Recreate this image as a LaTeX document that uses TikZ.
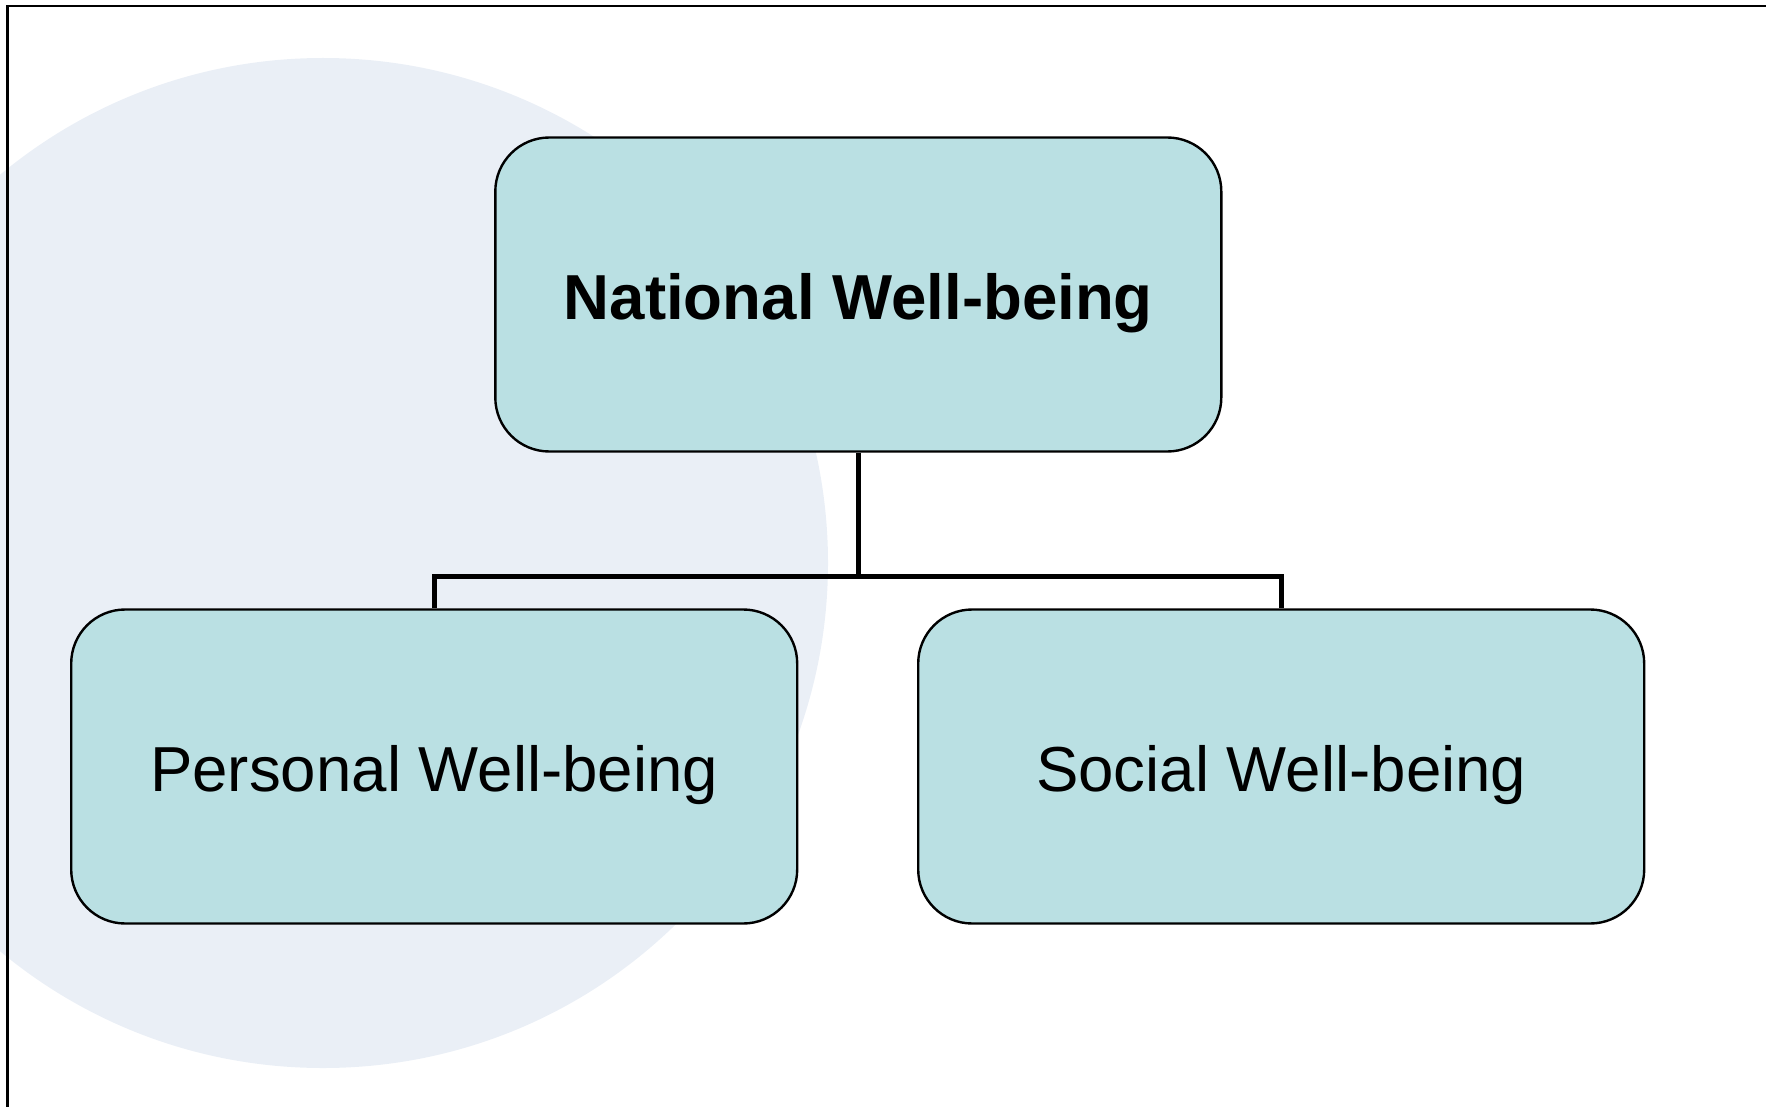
\documentclass[tikz,border=0pt]{standalone}
\usepackage{fontspec}
\setmainfont{Liberation Sans}
\definecolor{boxfill}{HTML}{BAE0E3}
\definecolor{circfill}{HTML}{EAEFF6}
\newcommand{\lowertxt}[1]{\raisebox{-9pt}[\height][\depth]{#1}}
\begin{document}
\begin{tikzpicture}[x=1pt,y=-1pt,
  wbox/.style={draw=black, line width=2.4pt, fill=boxfill, rounded corners=54pt,
    minimum width=726pt, minimum height=314pt, inner sep=0pt,
    font=\fontsize{63.6}{76}\selectfont},
  conn/.style={draw=black, line width=5pt, line join=miter}]
\useasboundingbox (0,0) rectangle (1766,1107);
\begin{scope}
  \clip (0,0) rectangle (1766,1107);
  \fill[circfill] (323,563) circle[radius=505];
\end{scope}
\draw[line width=2.6pt] (7.5,1107) -- (7.5,6) -- (1766,6);
\node[wbox] (top) at (858.3,294.5) {\lowertxt{\bfseries National Well-being}};
\node[wbox] (left) at (434.2,766.5) {\lowertxt{Personal Well-being}};
\node[wbox] (right) at (1281.2,766.5) {\lowertxt{Social Well-being}};
\coordinate (j) at (858.3,576.7);
\draw[conn] (top.south) -- (j);
\draw[conn] (left.north) |- (j) -| (right.north);
\end{tikzpicture}
\end{document}
